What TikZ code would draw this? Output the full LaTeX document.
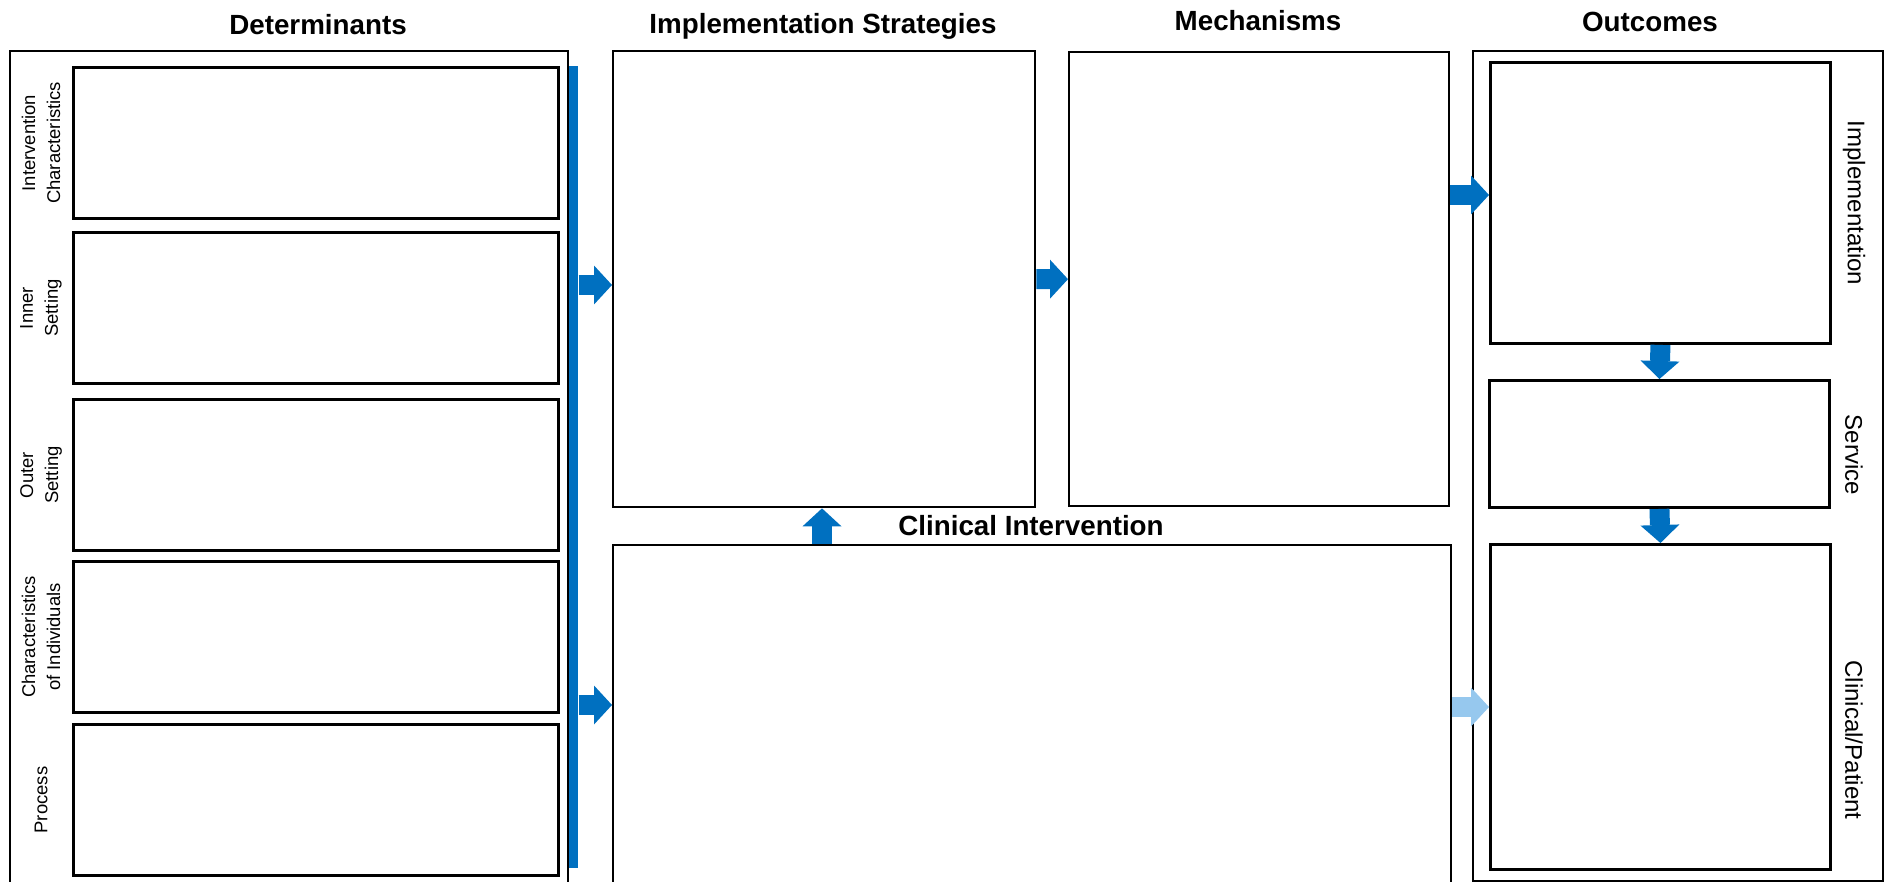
\documentclass[tikz,border=0pt]{standalone}
\usepackage{fontspec}
\setmainfont{Liberation Sans}
\usetikzlibrary{arrows.meta}
\definecolor{ciblue}{RGB}{0,112,192}
\definecolor{cilight}{RGB}{150,200,238}

\begin{document}
\begin{tikzpicture}[x=0.02cm, y=-0.02cm,
    frame/.style={draw, line width=1.4pt, inner sep=0pt, anchor=north west},
    cell/.style={draw, line width=1.7pt, inner sep=0pt, anchor=north west, minimum width=9.7cm, minimum height=3.02cm},
    title/.style={font=\fontsize{15.8}{19}\selectfont\bfseries, anchor=base},
    side/.style={font=\fontsize{10.5}{14.2}\selectfont, align=center, rotate=90},
    outlabel/.style={font=\fontsize{13.7}{16}\selectfont, rotate=-90},
    flow/.style={line width=0.4cm, draw=ciblue, -{Triangle[length=0.36cm, width=0.78cm, line width=0pt]}}]
        \clip (0,0) rectangle (1887,882);

        % determinants
        \node[frame, minimum width=11.16cm, minimum height=17.2cm] (det) at (9,50) {};
        \foreach \y/\name/\txt in {66/ic/{Intervention\\Characteristics}, 231/is/{Inner\\Setting}, 398/os/{Outer\\Setting}, 560/ci/{Characteristics\\of Individuals}, 723/pr/Process}{
            \node[cell] (\name) at (72,\y) {};
            \node[side] (\name-lbl) at (\name.west -| 41,0) {\txt};
        }
        \node[fill=ciblue, inner sep=0pt, anchor=north west, minimum width=0.18cm, minimum height=16.04cm] (bar) at (569,66) {};

        % middle and outcomes
        \node[frame, minimum width=8.44cm, minimum height=9.12cm] (impl) at (612,50) {};
        \node[frame, minimum width=7.6cm, minimum height=9.08cm] (mech) at (1068,51) {};
        \node[frame, minimum width=16.76cm, minimum height=7.32cm] (clin) at (612,544) {};
        \node[frame, minimum width=8.2cm, minimum height=16.6cm] (out) at (1472,50) {};
        \node[cell, minimum width=6.8cm, minimum height=5.62cm] (outimpl) at (1489,61) {};
        \node[cell, minimum width=6.8cm, minimum height=2.54cm] (service) at (1488,379) {};
        \node[cell, minimum width=6.8cm, minimum height=6.5cm] (patient) at (1489,543) {};

        \node[title] (det-title) at (318,35) {Determinants};
        \node[title] (impl-title) at (823,34) {Implementation Strategies};
        \node[title] (mech-title) at (1258,31) {Mechanisms};
        \node[title] (out-title) at (1650,32) {Outcomes};
        \node[title] (clin-title) at (1031,535) {Clinical Intervention};

        \node[outlabel] (outimpl-lbl) at (1854,203) {Implementation};
        \node[outlabel] (service-lbl) at (1854,455) {Service};
        \node[outlabel] (patient-lbl) at (1854,740) {Clinical/Patient};

        \draw[flow] (bar.east |- 0,285) -- (impl.west |- 0,285);
        \draw[flow] (bar.east |- 0,705) -- (clin.west |- 0,705);
        \draw[flow] (impl.east) -- (mech.west);
        \draw[flow] (mech.east |- 0,195) -- (outimpl.west |- 0,195);
        \draw[flow, draw=cilight] (clin.east |- 0,707) -- (patient.west |- 0,707);
        \draw[flow] (clin.north -| 822,0) -- (impl.south -| 822,0);
        \draw[flow] (outimpl.south) -- (service.north);
        \draw[flow] (service.south) -- (patient.north);
\end{tikzpicture}
\end{document}
